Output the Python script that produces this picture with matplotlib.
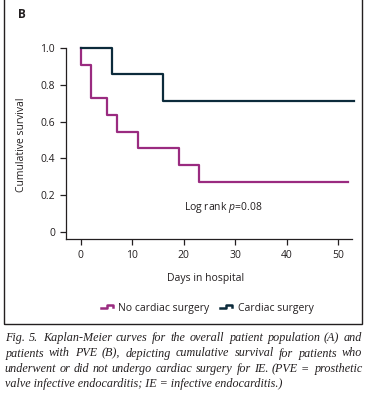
import numpy as np
import matplotlib.pyplot as plt
from matplotlib.lines import Line2D
from matplotlib.patches import Rectangle
from matplotlib.legend_handler import HandlerBase
from matplotlib.font_manager import FontProperties, findfont
from matplotlib.ft2font import FT2Font

# Kaplan-Meier step data
no_surg_days = [0, 0, 2, 5, 7, 11, 19, 23, 52]
no_surg_surv = [1.0, 0.909, 0.727, 0.636, 0.545, 0.455, 0.364, 0.273, 0.273]
surg_days = [0, 6, 16, 53]
surg_surv = [1.0, 0.857, 0.714, 0.714]

x_ticks = [0, 10, 20, 30, 40, 50]
y_ticks = [0, 0.2, 0.4, 0.6, 0.8, 1.0]
y_tick_labels = ["0", "0.2", "0.4", "0.6", "0.8", "1.0"]

series_names = ["No cardiac surgery", "Cardiac surgery"]
PURPLE = "#9a2b80"
NAVY = "#0c2b3b"
TXT = "#231f20"

caption_lines = [
    "Fig. 5. Kaplan-Meier curves for the overall patient population (A) and",
    "patients with PVE (B), depicting cumulative survival for patients who",
    "underwent or did not undergo cardiac surgery for IE. (PVE = prosthetic",
    "valve infective endocarditis; IE = infective endocarditis.)",
]

SANS = "Open Sans"
plt.rcParams['font.family'] = [SANS, 'DejaVu Sans']
plt.rcParams['mathtext.fontset'] = 'custom'
plt.rcParams['mathtext.it'] = SANS + ':italic'
plt.rcParams['mathtext.rm'] = SANS

W, H = 368, 400
DPI = 100
fig = plt.figure(figsize=(W / DPI, H / DPI), dpi=DPI)


def fx(px):
    return px / W


def fy(py):
    return 1 - py / H


ax = fig.add_axes([fx(66), fy(239), fx(352) - fx(66), fy(47.7) - fy(239)])

ax.step(no_surg_days, no_surg_surv, where='post', color=PURPLE, lw=1.6, clip_on=False)
ax.step(surg_days, surg_surv, where='post', color=NAVY, lw=1.6, clip_on=False)

ax.set_xlim(-2.9, 52.7)
ax.set_ylim(-0.036, 1.0)
ax.set_xticks(x_ticks)
ax.set_yticks(y_ticks)
ax.set_yticklabels(y_tick_labels)
for s in ['top', 'right']:
    ax.spines[s].set_visible(False)
for s in ['left', 'bottom']:
    ax.spines[s].set_linewidth(0.9)
    ax.spines[s].set_color(TXT)
ax.tick_params(direction='out', length=4, width=0.9, color=TXT,
               labelsize=7.5, labelcolor=TXT, pad=4)

ax.text(27.7, 0.137, r"Log rank $p$=0.08", ha='center', va='center',
        fontsize=7.5, color=TXT)

fig.text(fx(22), fy(145), "Cumulative survival", rotation=90, ha='center',
         va='center', fontsize=7.5, color=TXT)
fig.text(fx(206), fy(278), "Days in hospital", ha='center', va='center',
         fontsize=7.5, color=TXT)
fig.text(fx(18), fy(14), "B", ha='left', va='center', fontsize=8.5,
         fontweight='bold', color=TXT)


class StepHandler(HandlerBase):
    def create_artists(self, legend, orig_handle, xdescent, ydescent,
                       width, height, fontsize, trans):
        xs = np.array([0, 0.5, 0.5, 1.0, 1.0]) * width - xdescent
        ys = np.array([0.3, 0.3, 0.7, 0.7, 0.45]) * height - ydescent
        ln = Line2D(xs, ys, color=orig_handle.get_color(), lw=1.8)
        ln.set_transform(trans)
        return [ln]


handles = [Line2D([], [], color=PURPLE), Line2D([], [], color=NAVY)]
fig.legend(handles, series_names, loc='center', bbox_to_anchor=(fx(207), fy(308)),
           ncol=2, frameon=False, fontsize=7.5, handlelength=1.2,
           handletextpad=0.5, columnspacing=1.0, labelcolor=TXT,
           handler_map={Line2D: StepHandler()})

# outer box around panel
fig.add_artist(Rectangle((fx(4), fy(323.7)), fx(362) - fx(4), fy(-5) - fy(323.7),
                         transform=fig.transFigure, fill=False, lw=1.0,
                         edgecolor=TXT, clip_on=True))

# justified italic caption, words placed by pen advance widths
CAP_SIZE = 8.7
cap_prop = FontProperties(family=['Liberation Serif', 'DejaVu Serif'],
                          style='italic', size=CAP_SIZE)
ft = FT2Font(findfont(cap_prop))
ft.set_size(CAP_SIZE, DPI)


def adv(s):
    return sum(ft.load_char(ord(c)).linearHoriAdvance / 65536 for c in s)


def lsb(s):
    # matplotlib pushes the glyphs right by the first bearing, undo that
    ft.set_text(s, 0.0)
    return ft.get_bitmap_offset()[0] / 64


left, right = 5, 362
baselines = [341, 356.5, 372, 387.5]
for i, (line, base) in enumerate(zip(caption_lines, baselines)):
    if i == len(caption_lines) - 1:
        # last line is not justified: draw it in one piece
        fig.text(fx(left), fy(base), line, ha='left', va='baseline',
                 fontproperties=cap_prop, color=TXT)
        continue
    words = line.split(' ')
    n = len(words)
    extra = (right - left - adv(line)) / (n - 1)
    x = left
    for w in words:
        fig.text(fx(x - lsb(w)), fy(base), w, ha='left', va='baseline',
                 fontproperties=cap_prop, color=TXT)
        x += adv(w + ' ') + extra

fig.savefig('out.png', dpi=DPI)
